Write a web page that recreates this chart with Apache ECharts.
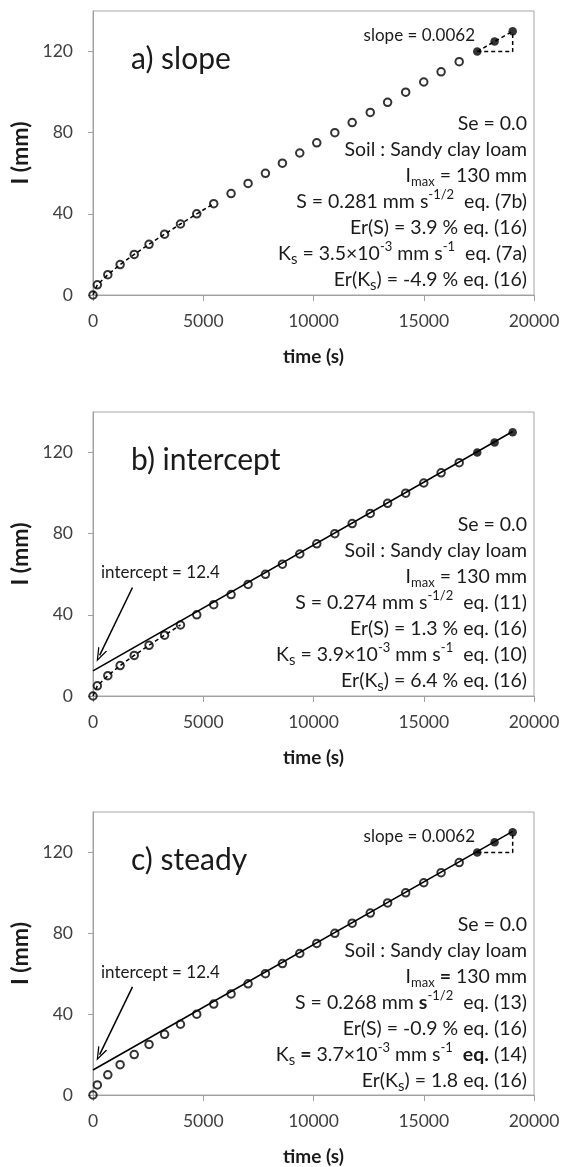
<!DOCTYPE html>
<html>
<head>
<meta charset="utf-8">
<script src="https://cdn.jsdelivr.net/npm/echarts@6/dist/echarts.min.js"></script>
<style>
  html, body { margin: 0; padding: 0; background: #fff; }
  #main { width: 566px; height: 1167px; }
</style>
</head>
<body>
<div id="main"></div>
<script>
// cumulative infiltration I (mm) against time (s)
const times = [0, 197, 672, 1230, 1869, 2541, 3246, 3967, 4705, 5475, 6262, 7033, 7820, 8590,
  9377, 10148, 10967, 11754, 12574, 13361, 14180, 15000, 15787, 16607, 17426, 18213, 19033];
const infil = [0, 5, 10, 15, 20, 25, 30, 35, 40, 45, 50, 55, 60, 65,
  70, 75, 80, 85, 90, 95, 100, 105, 110, 115, 120, 125, 130];

// fitted steady line
const intercept = 12.4;
const slope = 0.0062;

const xTicks = [0, 5000, 10000, 15000, 20000];
const yTicks = [0, 40, 80, 120];

// arrow pointing at the intercept (data coords)
const arrowTail = [1790, 53.5];
const arrowHead = [300, 20];

const titles = ['a) slope', 'b) intercept', 'c) steady'];
const notes = [
  ['Se = 0.0', 'Soil : Sandy clay loam', 'I{sub|max} = 130 mm',
   'S = 0.281 mm s{sup|-1/2}  eq. (7b)', 'Er(S) = 3.9 % eq. (16)',
   'K{ks|s} = 3.5×10{sup|-3} mm s{sup|-1}  eq. (7a)', 'Er(K{ks|s}) = -4.9 % eq. (16)'],
  ['Se = 0.0', 'Soil : Sandy clay loam', 'I{sub|max} = 130 mm',
   'S = 0.274 mm s{sup|-1/2}  eq. (11)', 'Er(S) = 1.3 % eq. (16)',
   'K{ks|s} = 3.9×10{sup|-3} mm s{sup|-1}  eq. (10)', 'Er(K{ks|s}) = 6.4 % eq. (16)'],
  ['Se = 0.0', 'Soil : Sandy clay loam', 'I{sub|max} {b|=} 130 mm',
   'S = 0.268 mm {b|s}{sup|-1/2}  eq. (13)', 'Er(S) = -0.9 % eq. (16)',
   'K{ks|s} {b|=} 3.7×10{sup|-3} mm s{sup|-1}  {b|eq.} (14)', 'Er(K{ks|s}) = 1.8 eq. (16)']
];

const FONT = 'Lato, "Open Sans", sans-serif';
const TXT = '#1a1a1a';
const tops = [11, 412, 812];
const plotH = 284;

const pts = times.map((t, i) => [t, infil[i]]);
const openPts = pts.slice(0, 24);
const filledPts = pts.slice(24);
const last = pts[pts.length - 1];
const tri = [filledPts[0], [last[0], filledPts[0][1]], last];
const fit = [[0, intercept], [last[0], intercept + slope * last[0]]];

const grids = tops.map(t => ({
  left: 93, right: 32, top: t, height: plotH,
  show: true, borderColor: '#a6a6a6', borderWidth: 1
}));

const xAxes = tops.map((t, i) => ({
  type: 'value', gridIndex: i, min: 0, max: 20000, interval: 5000,
  name: 'time (s)', nameLocation: 'middle', nameGap: 52,
  nameTextStyle: { fontFamily: FONT, fontWeight: 'bold', fontSize: 19, color: TXT },
  axisLine: { lineStyle: { color: '#a0a0a0' } },
  axisTick: { show: true, length: 6, lineStyle: { color: '#a0a0a0' } },
  splitLine: { show: false },
  axisLabel: { fontFamily: FONT, fontSize: 17.5, color: '#404040', margin: 17, customValues: xTicks,
    formatter: v => String(v) }
}));

const yAxes = tops.map((t, i) => ({
  type: 'value', gridIndex: i, min: 0, max: 140, interval: 40,
  name: 'I (mm)', nameLocation: 'middle', nameGap: 52, nameRotate: 90,
  nameTextStyle: { fontFamily: FONT, fontWeight: 'bold', fontSize: 23, color: TXT },
  axisLine: { show: true, lineStyle: { color: '#a0a0a0' } },
  axisTick: { show: true, length: 5, customValues: yTicks, lineStyle: { color: '#a0a0a0' } },
  splitLine: { show: false },
  axisLabel: { fontFamily: FONT, fontSize: 17.5, color: '#404040', margin: 20, customValues: yTicks,
    formatter: v => (yTicks.includes(v) ? String(v) : '') }
}));

const dashed = { color: '#000', width: 1.5, type: [4, 3] };
const solid = { color: '#000', width: 1.6 };

function lineSeries(i, data, style, extra) {
  return Object.assign({
    type: 'line', xAxisIndex: i, yAxisIndex: i, data: data,
    showSymbol: false, symbol: 'none', lineStyle: style, silent: true, z: 3
  }, extra || {});
}

function markers(i) {
  return [
    { type: 'scatter', xAxisIndex: i, yAxisIndex: i, data: openPts, symbolSize: 7.5,
      itemStyle: { color: 'rgba(255,255,255,0)', borderColor: '#000', borderWidth: 2 }, z: 4 },
    { type: 'scatter', xAxisIndex: i, yAxisIndex: i, data: filledPts, symbolSize: 8.5,
      itemStyle: { color: '#000' }, z: 4 }
  ];
}

const arrowMark = {
  silent: true, symbol: ['none', 'path://M5,0 L10,10 L8.6,10 L5,2.6 L1.4,10 L0,10 Z'],
  symbolSize: [10, 14], label: { show: false },
  lineStyle: { color: '#000', width: 1.5, type: 'solid' },
  data: [[{ coord: arrowTail }, { coord: arrowHead }]]
};

const series = [
  // a) slope
  ...markers(0),
  lineSeries(0, pts.slice(0, 10), dashed),
  lineSeries(0, filledPts, dashed),
  lineSeries(0, tri, dashed),
  // b) intercept
  ...markers(1),
  lineSeries(1, pts.slice(0, 8), dashed),
  lineSeries(1, fit, solid, { markLine: arrowMark }),
  // c) steady
  ...markers(2),
  lineSeries(2, fit, solid, { markLine: arrowMark }),
  lineSeries(2, tri, dashed)
];

const rich = {
  sup: { fontFamily: FONT, fontSize: 13, lineHeight: 14, verticalAlign: 'top', color: TXT },
  sub: { fontFamily: FONT, fontSize: 13, lineHeight: 14, verticalAlign: 'bottom', color: TXT },
  ks: { fontFamily: FONT, fontSize: 15, lineHeight: 20, verticalAlign: 'bottom', color: TXT },
  b: { fontFamily: FONT, fontSize: 19.5, fontWeight: 'bold', lineHeight: 26, color: TXT }
};

const graphic = [];
tops.forEach((t, i) => {
  graphic.push({
    type: 'text', x: 131, y: t + 48, silent: true,
    style: { text: titles[i], fontFamily: FONT, fontSize: 30, fill: TXT, verticalAlign: 'middle' }
  });
  graphic.push({
    type: 'text', x: 527, y: t + 99.5, silent: true,
    style: { text: notes[i].join('\n'), rich: rich, fontFamily: FONT, fontSize: 19.5, lineHeight: 26,
      fill: TXT, align: 'right', verticalAlign: 'top' }
  });
  if (i !== 1) {
    graphic.push({
      type: 'text', x: 475, y: t + 24.5, silent: true,
      style: { text: 'slope = 0.0062', fontFamily: FONT, fontSize: 17, fill: TXT,
        align: 'right', verticalAlign: 'middle' }
    });
  }
  if (i !== 0) {
    graphic.push({
      type: 'text', x: 101, y: t + 160.5, silent: true,
      style: { text: 'intercept = 12.4', fontFamily: FONT, fontSize: 17, fill: TXT,
        align: 'left', verticalAlign: 'middle' }
    });
  }
});

const options = {
  animation: false,
  backgroundColor: '#fff',
  grid: grids,
  xAxis: xAxes,
  yAxis: yAxes,
  series: series,
  graphic: graphic
};

var myChart = echarts.init(document.getElementById('main'));
myChart.setOption(options);
</script>
</body>
</html>
